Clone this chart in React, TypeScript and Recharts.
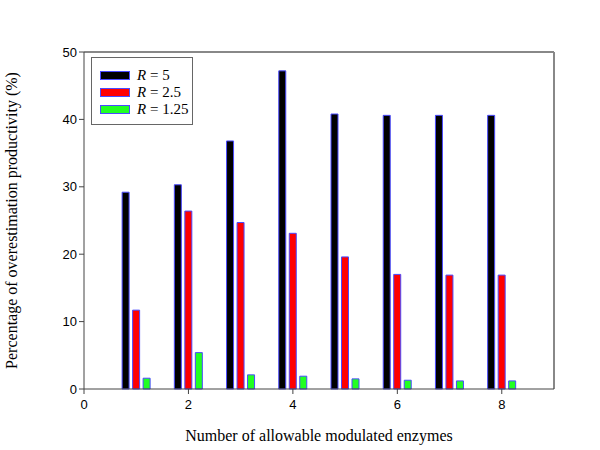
import React from 'react';
import { BarChart, Bar, XAxis, YAxis, ReferenceLine } from 'recharts';

const enzymes = [1, 2, 3, 4, 5, 6, 7, 8];
const r5 = [29.2, 30.3, 36.8, 47.2, 40.8, 40.6, 40.6, 40.6];
const r25 = [11.7, 26.4, 24.7, 23.1, 19.6, 17.0, 16.9, 16.9];
const r125 = [1.6, 5.4, 2.1, 1.9, 1.5, 1.3, 1.2, 1.2];
const xTicks = [0, 2, 4, 6, 8];
const yTicks = [0, 10, 20, 30, 40, 50];
const seriesNames = ['5', '2.5', '1.25'];
const seriesColors = ['#000000', '#ff0000', '#22ff22'];

const data = enzymes.map((n, i) => ({ n, r5: r5[i], r25: r25[i], r125: r125[i] }));

const serif = '"Liberation Serif", "Times New Roman", serif';
const sans = '"Liberation Sans", Arial, sans-serif';

const LegendBox = () => (
  <div
    style={{
      position: 'absolute',
      left: 91,
      top: 57,
      border: '1.5px solid #666',
      width: 102,
      height: 68,
      boxSizing: 'border-box',
      paddingTop: 9,
      paddingLeft: 8,
      background: '#fff',
      fontFamily: serif,
      fontSize: 15,
      color: '#000',
    }}
  >
    {seriesNames.map((nm, i) => (
      <div key={nm} style={{ display: 'flex', alignItems: 'center', height: 17 }}>
        <div
          style={{
            width: 30,
            height: 9,
            background: seriesColors[i],
            border: '1px solid #4a4aff',
            boxSizing: 'border-box',
            marginRight: 7,
          }}
        />
        <span>
          <i>R</i> = {nm}
        </span>
      </div>
    ))}
  </div>
);

export default function App() {
  return (
    <div style={{ position: 'absolute', left: 0, top: 0, width: 600, height: 450, background: '#fff' }}>
      <BarChart
        width={600}
        height={450}
        data={data}
        margin={{ top: 52, right: 46, left: 24, bottom: 31 }}
        barSize={7}
        barGap={3.5}
      >
        <XAxis
          dataKey="n"
          type="number"
          domain={[0, 9]}
          ticks={xTicks}
          height={30}
          stroke="#444"
          tickSize={5}
          tickMargin={6}
          tick={{ fill: '#000', fontFamily: sans, fontSize: 13 }}
          label={{
            value: 'Number of allowable modulated enzymes',
            position: 'insideBottom',
            offset: -22,
            style: { fontFamily: serif, fontSize: 16, fill: '#000' },
          }}
        />
        <YAxis
          type="number"
          domain={[0, 50]}
          ticks={yTicks}
          width={60}
          stroke="#444"
          tickSize={5}
          tickMargin={2}
          tick={{ fill: '#000', fontFamily: sans, fontSize: 13 }}
          label={{
            value: 'Percentage of overestimation productivity (%)',
            angle: -90,
            position: 'insideLeft',
            offset: -13,
            style: { fontFamily: serif, fontSize: 16, fill: '#000', textAnchor: 'middle' },
          }}
        />
        <ReferenceLine y={50} stroke="#888" strokeWidth={2} ifOverflow="extendDomain" />
        <ReferenceLine x={9} stroke="#888" strokeWidth={2} ifOverflow="extendDomain" />
        <Bar dataKey="r5" fill={seriesColors[0]} stroke="#4a4aff" strokeWidth={1} isAnimationActive={false} />
        <Bar dataKey="r25" fill={seriesColors[1]} stroke="#4a4aff" strokeWidth={1} isAnimationActive={false} />
        <Bar dataKey="r125" fill={seriesColors[2]} stroke="#4a4aff" strokeWidth={1} isAnimationActive={false} />
      </BarChart>
      <LegendBox />
    </div>
  );
}
